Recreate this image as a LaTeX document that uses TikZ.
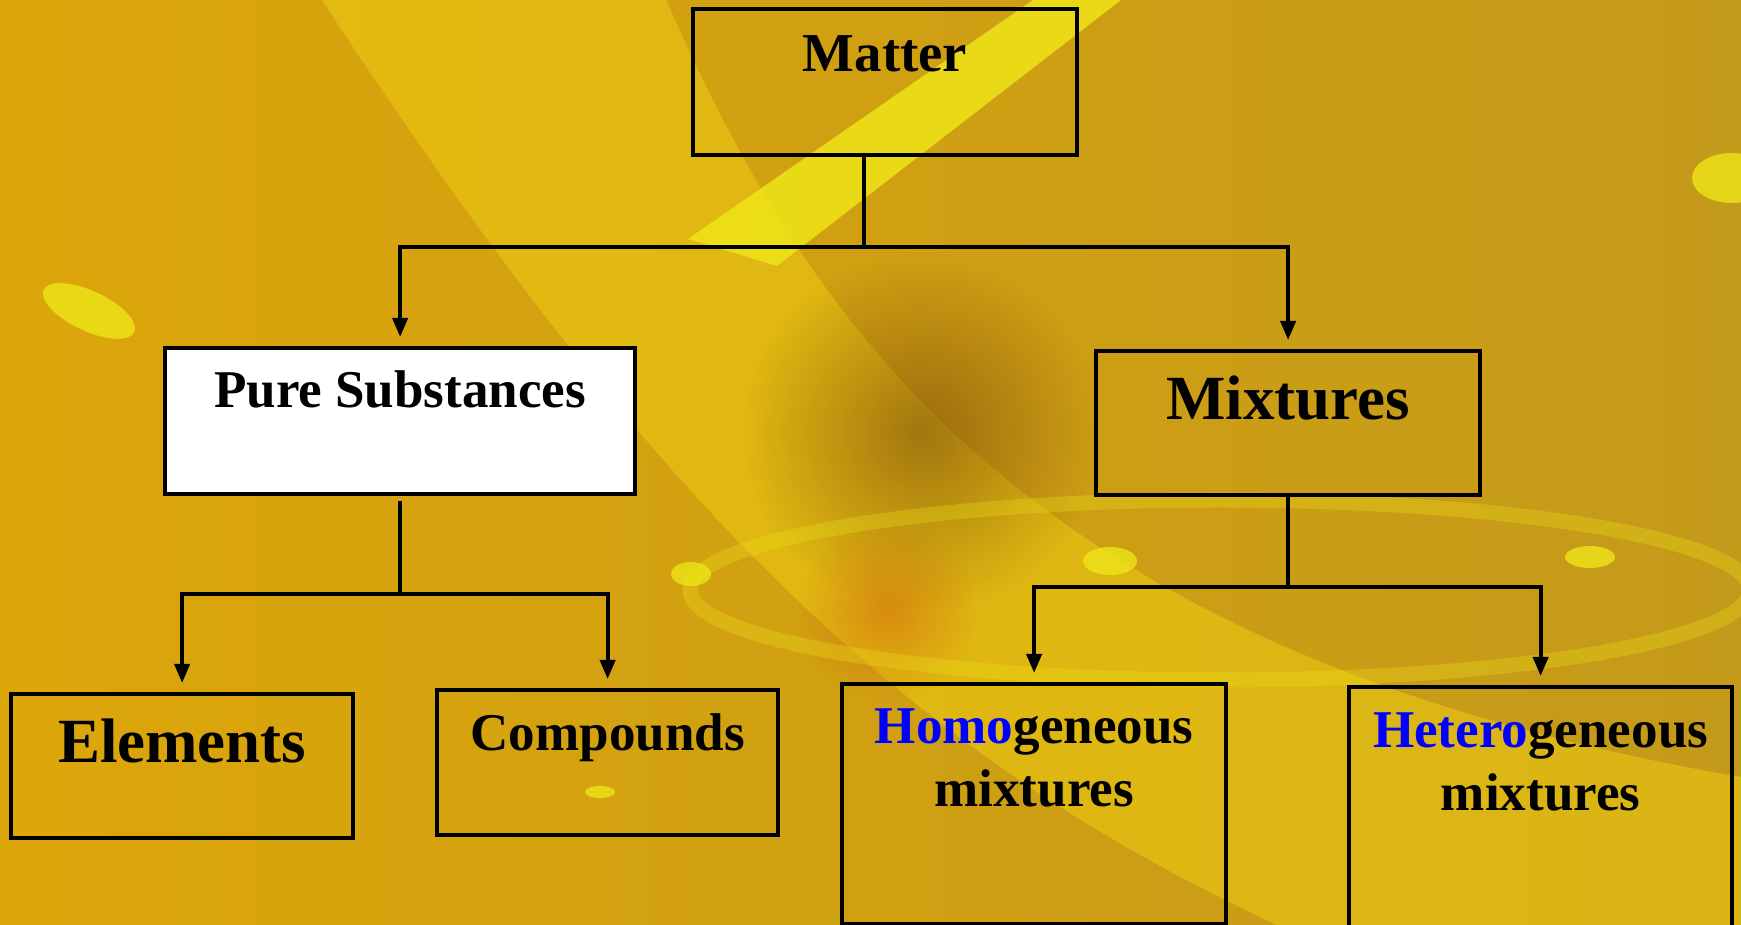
\documentclass[tikz,border=0pt]{standalone}
\usepackage{fontspec}
\setmainfont{Liberation Serif}
\usetikzlibrary{positioning, arrows.meta, fadings}

\definecolor{goldleft}{HTML}{DCA60A}
\definecolor{goldright}{HTML}{C49A1A}
\definecolor{lightband}{HTML}{F0D012}
\definecolor{brightband}{HTML}{EEE418}
\definecolor{darkspot}{HTML}{7A4A0C}
\definecolor{orangespot}{HTML}{D0600C}

\tikzfading[name=softspot, inner color=transparent!0, outer color=transparent!100]

\begin{document}
\begin{tikzpicture}[
        every node/.style={font=\fontsize{15.1}{18.2}\selectfont\bfseries},
        box/.style={draw, rectangle, line width=1.2pt, inner sep=0pt, anchor=north west},
        title/.style={anchor=base, align=center, inner sep=0pt},
        big/.style={font=\fontsize{17.9}{21}\selectfont\bfseries},
        conn/.style={line width=1.1pt},
        arr/.style={conn, -{Triangle[length=1.9mm, width=1.5mm]}, shorten >=0.9mm},
        spot/.style={fill=brightband, opacity=0.8}
    ]

    % background
    \useasboundingbox (0,0) rectangle (17.41,-9.25);
    \clip (0,0) rectangle (17.41,-9.25);
    \shade[left color=goldleft, right color=goldright] (0,0) rectangle (17.41,-9.25);
    \fill[lightband, opacity=0.5] (3.22,0) -- (6.66,0) .. controls (8,-3) and (10,-6.5) .. (17.41,-7.77)
        -- (17.41,-9.25) -- (12.77,-9.25) .. controls (9,-7.5) and (6.5,-5) .. (3.22,0) -- cycle;
    \fill[brightband, opacity=0.85] (6.88,-2.39) -- (7.77,-2.66) -- (11.21,0) -- (10.33,0) -- cycle;
    \fill[darkspot, opacity=0.6, path fading=softspot] (9.22,-4.33) circle (1.8);
    \fill[orangespot, opacity=0.5, path fading=softspot] (8.88,-6.11) circle (0.9);
    \draw[brightband, opacity=0.3, line width=1.5mm] (12.2,-5.9) ellipse (5.3 and 0.9);
    \fill[spot, rotate around={-25:(0.89,-3.11)}] (0.89,-3.11) ellipse (0.5 and 0.2);
    \fill[spot] (6.91,-5.74) ellipse (0.2 and 0.12);
    \fill[spot] (11.10,-5.61) ellipse (0.27 and 0.14);
    \fill[spot] (15.90,-5.57) ellipse (0.25 and 0.11);
    \fill[spot] (17.32,-1.78) ellipse (0.4 and 0.25);
    \fill[spot] (6.00,-7.92) ellipse (0.15 and 0.06);

    % boxes
    \node[box, minimum width=3.84cm, minimum height=1.46cm] (matter) at (6.91,-0.07) {};
    \node[box, fill=white, minimum width=4.70cm, minimum height=1.46cm] (pure) at (1.63,-3.46) {};
    \node[box, minimum width=3.84cm, minimum height=1.44cm] (mixtures) at (10.94,-3.49) {};
    \node[box, minimum width=3.42cm, minimum height=1.44cm] (elements) at (0.09,-6.92) {};
    \node[box, minimum width=3.41cm, minimum height=1.45cm] (compounds) at (4.35,-6.88) {};
    \node[box, minimum width=3.84cm, minimum height=2.40cm] (homo) at (8.40,-6.82) {};
    \node[box, minimum width=3.83cm, minimum height=2.60cm] (hetero) at (13.47,-6.85) {};

    % texts
    \node[title, font=\fontsize{15.6}{18}\selectfont\bfseries] (mattertext) at ([yshift=-0.65cm]matter.north) {Matter};
    \node[title] (puretext) at ([yshift=-0.62cm]pure.north) {Pure Substances};
    \node[title, big] (mixturestext) at ([yshift=-0.71cm]mixtures.north) {Mixtures};
    \node[title, big] (elementstext) at ([yshift=-0.71cm]elements.north) {Elements};
    \node[title] (compoundstext) at ([yshift=-0.63cm]compounds.north) {Compounds};
    \node[title] (homotext) at ([yshift=-1.25cm]homo.north) {\textcolor{blue}{Homo}geneous\\mixtures};
    \node[title] (heterotext) at ([yshift=-1.26cm]hetero.north) {\textcolor{blue}{Hetero}geneous\\mixtures};

    % connectors
    \coordinate (mattersplit) at ([xshift=-2.1mm, yshift=-0.90cm]matter.south);
    \draw[conn] ([xshift=-2.1mm]matter.south) -- (mattersplit);
    \draw[arr] (mattersplit) -| (pure.north);
    \draw[arr] (mattersplit) -| (mixtures.north);

    \draw[conn] ([yshift=-0.5mm]pure.south) -- ++(0,-0.93) coordinate (puresplit);
    \draw[arr] (puresplit) -| (elements.north);
    \draw[arr] (puresplit) -| (compounds.north);

    \draw[conn] (mixtures.south) -- ++(0,-0.90) coordinate (mixsplit);
    \draw[arr] (mixsplit) -| (homo.north);
    \draw[arr] (mixsplit) -| (hetero.north);

\end{tikzpicture}
\end{document}
